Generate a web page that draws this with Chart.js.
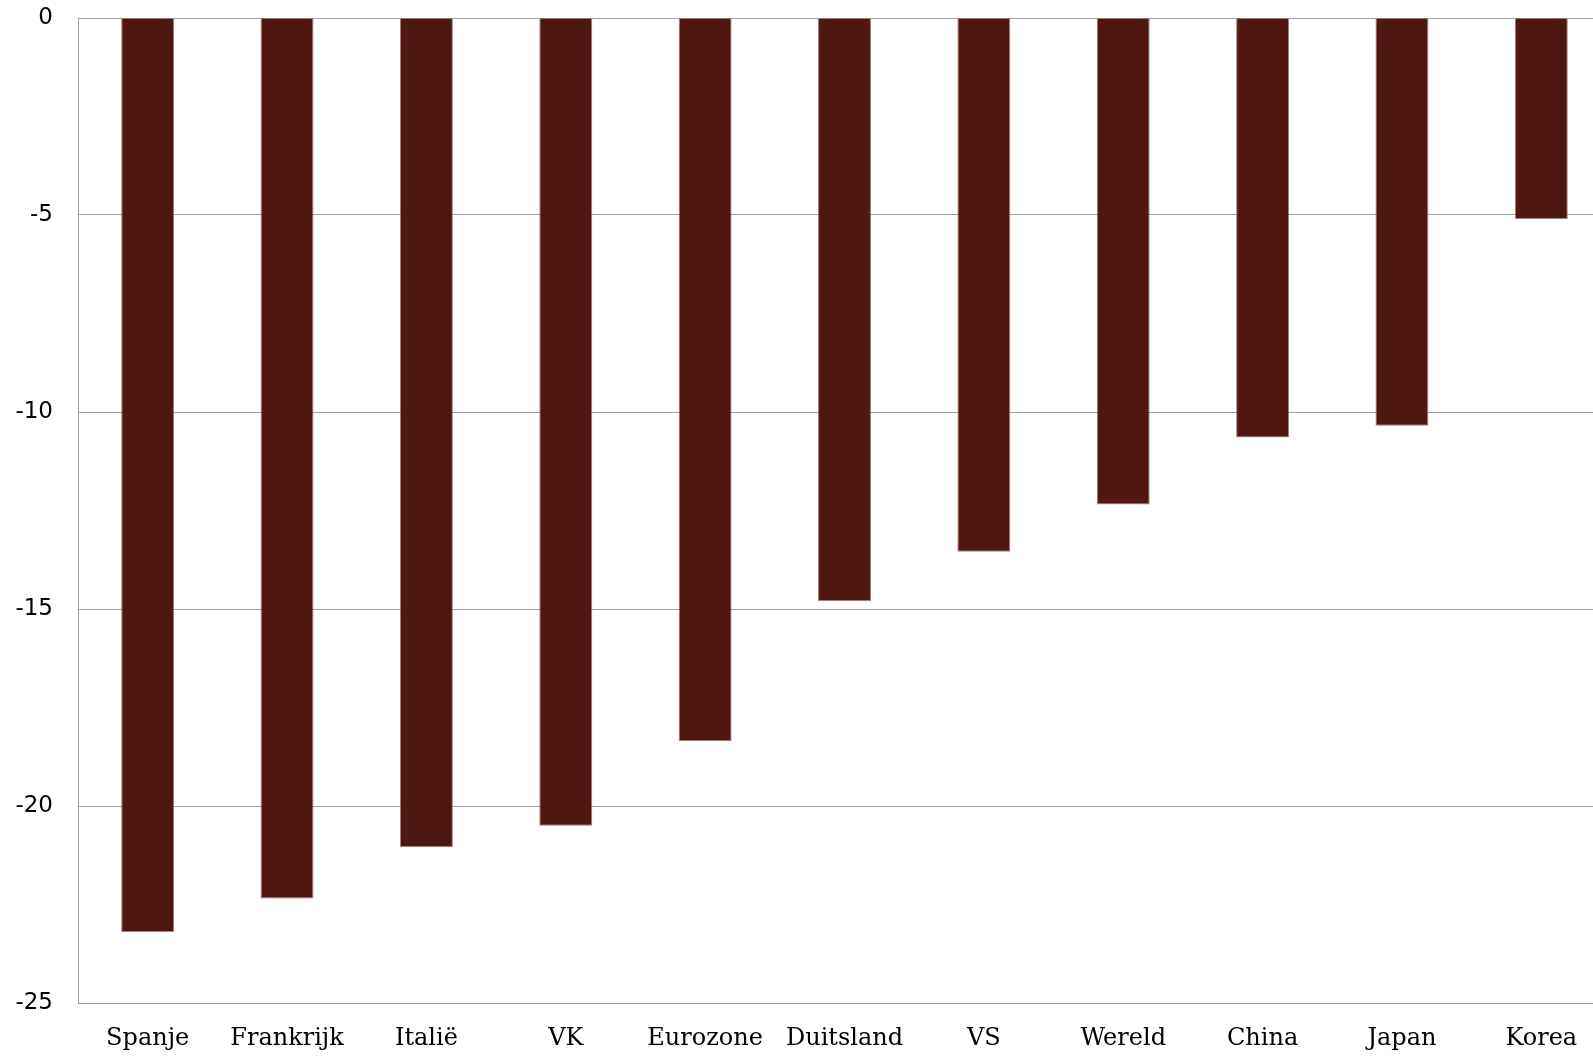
<!DOCTYPE html>
<html>
<head>
<meta charset="utf-8">
<script src="https://cdn.jsdelivr.net/npm/chart.js@4"></script>
<style>
  html, body { margin: 0; padding: 0; background: #fff; overflow: hidden; }
  #wrap { width: 1611px; height: 1056px; }
</style>
</head>
<body>
<div id="wrap"><canvas id="bars"></canvas></div>
<script>
const countries = ["Spanje", "Frankrijk", "Italië", "VK", "Eurozone", "Duitsland", "VS", "Wereld", "China", "Japan", "Korea"]
const change = [-23.2, -22.35, -21.05, -20.5, -18.35, -14.8, -13.55, -12.35, -10.65, -10.35, -5.1]
const yTicks = [0, -5, -10, -15, -20, -25]

const gridGrey = "#a0a0a0"

const ctx = document.getElementById("bars");
const chart = new Chart(ctx, {
    type: 'bar',
    data: {
        labels: countries,
        datasets: [{
            data: change,
            backgroundColor: "#4e1712",
            borderColor: "rgba(130, 70, 65, 0.7)",
            borderWidth: 1,
            categoryPercentage: 1,
            barPercentage: 0.38
        }]
    },
    options: {
        responsive: true,
        maintainAspectRatio: false,
        animation: false,
        layout: { padding: { top: 18, right: 0, bottom: 0, left: 0 } },
        plugins: {
            legend: { display: false },
            tooltip: { enabled: false }
        },
        scales: {
            x: {
                grid: { display: false },
                border: { color: gridGrey, width: 1 },
                ticks: {
                    color: "#000",
                    font: { family: "DejaVu Serif", size: 24 },
                    padding: 13,
                    autoSkip: false,
                    maxRotation: 0
                },
                afterFit: s => { s.height = 53; s.paddingLeft = 0; s.paddingRight = 0 }
            },
            y: {
                min: -25,
                max: 0,
                afterBuildTicks: s => { s.ticks = yTicks.map(v => ({ value: v })) },
                grid: { color: gridGrey, drawTicks: false },
                border: { color: gridGrey, width: 1 },
                ticks: {
                    color: "#000",
                    font: { family: "DejaVu Sans", size: 23 },
                    padding: 25
                },
                afterFit: s => { s.width = 78; s.paddingTop = 0; s.paddingBottom = 0 }
            }
        }
    }
});
</script>
</body>
</html>
